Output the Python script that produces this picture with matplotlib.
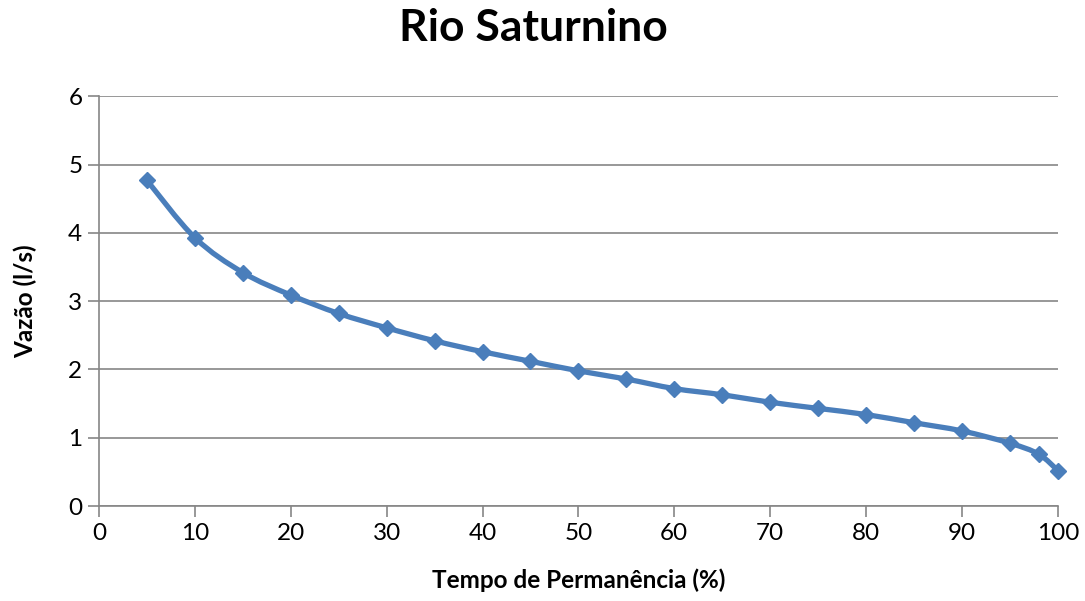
import numpy as np
import matplotlib
matplotlib.use("Agg")
import matplotlib.pyplot as plt
from matplotlib.path import Path
from matplotlib.patches import PathPatch

plt.rcParams['font.family'] = ['Lato', 'DejaVu Sans']

# Curva de permanencia - Rio Saturnino
tempo = [5, 10, 15, 20, 25, 30, 35, 40, 45, 50, 55, 60, 65, 70, 75, 80, 85, 90, 95, 98, 100]
vazao = [4.77, 3.93, 3.42, 3.09, 2.82, 2.61, 2.42, 2.26, 2.12, 1.98, 1.86, 1.72,
         1.63, 1.52, 1.43, 1.34, 1.22, 1.10, 0.92, 0.76, 0.52]

xticks = list(range(0, 101, 10))
yticks = list(range(0, 7))

azul = "#4a7ebb"
cinza = "#868686"

def smooth_path(x, y):
    # bezier estilo "linha suavizada" do Excel (catmull-rom)
    x = np.asarray(x, float)
    y = np.asarray(y, float)
    verts = [(x[0], y[0])]
    codes = [Path.MOVETO]
    n = len(x)
    for i in range(n - 1):
        i0 = max(i - 1, 0)
        i3 = min(i + 2, n - 1)
        c1 = (x[i] + (x[i + 1] - x[i0]) / 6, y[i] + (y[i + 1] - y[i0]) / 6)
        c2 = (x[i + 1] - (x[i3] - x[i]) / 6, y[i + 1] - (y[i3] - y[i]) / 6)
        verts += [c1, c2, (x[i + 1], y[i + 1])]
        codes += [Path.CURVE4] * 3
    return Path(verts, codes)

fig = plt.figure(figsize=(10.85, 6.01), dpi=100)
ax = fig.add_axes([0.0912, 0.158, 0.8838, 0.6817])

ax.add_patch(PathPatch(smooth_path(tempo, vazao), facecolor="none",
                       edgecolor=azul, lw=3.8, capstyle="round", zorder=3,
                       clip_on=False))
ax.plot(tempo, vazao, linestyle="none", marker="D", markersize=8.5,
        color=azul, zorder=4, clip_on=False)

ax.set_xlim(0, 100)
ax.set_ylim(0, 6)
ax.set_xticks(xticks)
ax.set_yticks(yticks)
ax.grid(axis="y", color=cinza, lw=1.2)
ax.set_axisbelow(True)

for s in ["top", "right"]:
    ax.spines[s].set_visible(False)
for s in ["left", "bottom"]:
    ax.spines[s].set_color(cinza)
    ax.spines[s].set_linewidth(1.2)
ax.tick_params(axis="both", color=cinza, width=1.2, length=8, labelsize=17.5, pad=4)

fig.text(0.492, 0.953, "Rio Saturnino", fontsize=32, fontweight="bold",
         ha="center", va="center")
ax.set_xlabel("Tempo de Permanência (%)", fontsize=17.5, fontweight="bold", labelpad=18)
ax.set_ylabel("Vazão (l/s)", fontsize=17.5, fontweight="bold", labelpad=22)

fig.savefig("out.png", dpi=100)
